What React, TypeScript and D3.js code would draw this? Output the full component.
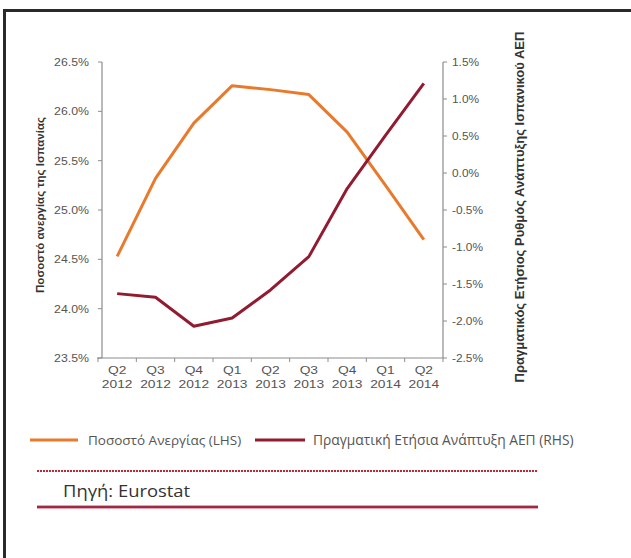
import * as d3 from 'd3'
import type { ReactNode } from 'react'

const quarters = ['Q2', 'Q3', 'Q4', 'Q1', 'Q2', 'Q3', 'Q4', 'Q1', 'Q2']
const years = ['2012', '2012', '2012', '2013', '2013', '2013', '2013', '2014', '2014']
const unemployment = [24.53, 25.32, 25.88, 26.26, 26.22, 26.17, 25.79, 25.25, 24.7]
const gdpGrowth = [-1.63, -1.68, -2.07, -1.96, -1.58, -1.13, -0.21, 0.51, 1.21]
const leftTicks = [23.5, 24.0, 24.5, 25.0, 25.5, 26.0, 26.5]
const rightTicks = [-2.5, -2.0, -1.5, -1.0, -0.5, 0.0, 0.5, 1.0, 1.5]

const ORANGE = '#E97A2C'
const RED = '#921B31'
const AXIS = '#8c8c8c'
const LABEL = '#555'
const FONT = 'Liberation Sans, Arial, sans-serif'

// text stretched horizontally, the picture is a bit wider than tall
function SText(props: { x: number; y: number; sx?: number; size: number; anchor?: string; fill?: string; family?: string; weight?: string; children: ReactNode }) {
  const { x, y, sx = 1, size, anchor = 'start', fill = LABEL, family = FONT, weight = 'normal', children } = props
  return (
    <g transform={`translate(${x},${y}) scale(${sx},1)`}>
      <text x={0} y={0} fontSize={size} textAnchor={anchor} fill={fill} fontFamily={family} fontWeight={weight}>
        {children}
      </text>
    </g>
  )
}

export default function App() {
  const W = 631
  const H = 558
  const x0 = 98
  const x1 = 443
  const top = 62
  const bottom = 358

  const idx = quarters.map((_, i) => i)
  const band = d3.scaleBand<number>().domain(idx).range([x0, x1])
  const xPos = (i: number) => (band(i) ?? 0) + band.bandwidth() / 2
  const yL = d3.scaleLinear().domain([23.5, 26.5]).range([bottom, top])
  const yR = d3.scaleLinear().domain([-2.5, 1.5]).range([bottom, top])

  const lineL = d3.line<number>().x((_, i) => xPos(i)).y(d => yL(d))
  const lineR = d3.line<number>().x((_, i) => xPos(i)).y(d => yR(d))

  const bounds = [...idx.map(i => band(i) ?? 0), x1]

  return (
    <svg width={W} height={H} style={{ position: 'absolute', left: 0, top: 0, background: '#fff' }}>
      <rect x={0} y={0} width={W} height={H} fill="#fff" />
      <rect x={4.5} y={10.5} width={700} height={700} fill="#fff" stroke="#2a2a2a" strokeWidth={3} />

      {/* left axis */}
      <line x1={102} x2={102} y1={top} y2={bottom} stroke={AXIS} strokeWidth={1.2} />
      {leftTicks.map(t => (
        <g key={'l' + t}>
          <line x1={98} x2={102} y1={yL(t)} y2={yL(t)} stroke={AXIS} />
          <SText x={89} y={yL(t) + 4} sx={1.12} size={11} anchor="end">{t.toFixed(1)}%</SText>
        </g>
      ))}

      {/* right axis */}
      <line x1={x1} x2={x1} y1={top} y2={bottom} stroke={AXIS} strokeWidth={1.2} />
      {rightTicks.map(t => (
        <g key={'r' + t}>
          <line x1={x1} x2={x1 + 4} y1={yR(t)} y2={yR(t)} stroke={AXIS} />
          <SText x={452} y={yR(t) + 4} sx={1.08} size={11}>{(Math.abs(t) < 1e-9 ? 0 : t).toFixed(1)}%</SText>
        </g>
      ))}

      {/* x axis */}
      <line x1={x0 - 1} x2={x1} y1={bottom} y2={bottom} stroke={AXIS} strokeWidth={1.2} />
      {bounds.map((b, i) => (
        <line key={'xt' + i} x1={b} x2={b} y1={bottom} y2={bottom + 4} stroke={AXIS} />
      ))}
      {idx.map(i => (
        <g key={'xl' + i}>
          <SText x={xPos(i)} y={bottom + 16} sx={1.2} size={11.5} anchor="middle">{quarters[i]}</SText>
          <SText x={xPos(i)} y={bottom + 30} sx={1.2} size={11.5} anchor="middle">{years[i]}</SText>
        </g>
      ))}

      {/* series */}
      <path d={lineL(unemployment) ?? ''} fill="none" stroke={ORANGE} strokeWidth={3} strokeLinejoin="round" />
      <path d={lineR(gdpGrowth) ?? ''} fill="none" stroke={RED} strokeWidth={3} strokeLinejoin="round" />

      {/* axis titles */}
      <text transform="translate(44,205) rotate(-90)" textAnchor="middle" fontSize={11.5} fontWeight="bold" fill="#333" fontFamily={FONT}>
        Ποσοστό ανεργίας της Ισπανίας
      </text>
      <text transform="translate(524,207) rotate(-90)" textAnchor="middle" fontSize={13} fontWeight="bold" fill="#333" fontFamily={FONT}>
        Πραγματικός Ετήσιος Ρυθμός Ανάπτυξης Ισπανικού ΑΕΠ
      </text>

      {/* legend */}
      <line x1={30} x2={78} y1={440} y2={440} stroke={ORANGE} strokeWidth={3} />
      <SText x={88} y={444.5} size={13.5} family="Open Sans, sans-serif">Ποσοστό Ανεργίας (LHS)</SText>
      <line x1={255} x2={305} y1={440} y2={440} stroke={RED} strokeWidth={3} />
      <SText x={313} y={444.5} size={13.8} family="Open Sans, sans-serif">Πραγματική Ετήσια Ανάπτυξη ΑΕΠ (RHS)</SText>

      {/* source block */}
      <line x1={37} x2={538} y1={471} y2={471} stroke="#c0283a" strokeWidth={2} strokeDasharray="2 1" />
      <SText x={63} y={497} sx={1.15} size={16} fill="#333" family="Open Sans, sans-serif">Πηγή: Eurostat</SText>
      <line x1={37} x2={538} y1={507} y2={507} stroke="#e9a1ad" strokeWidth={4} />
      <line x1={37} x2={538} y1={507} y2={507} stroke="#9c2a45" strokeWidth={2} />
    </svg>
  )
}
